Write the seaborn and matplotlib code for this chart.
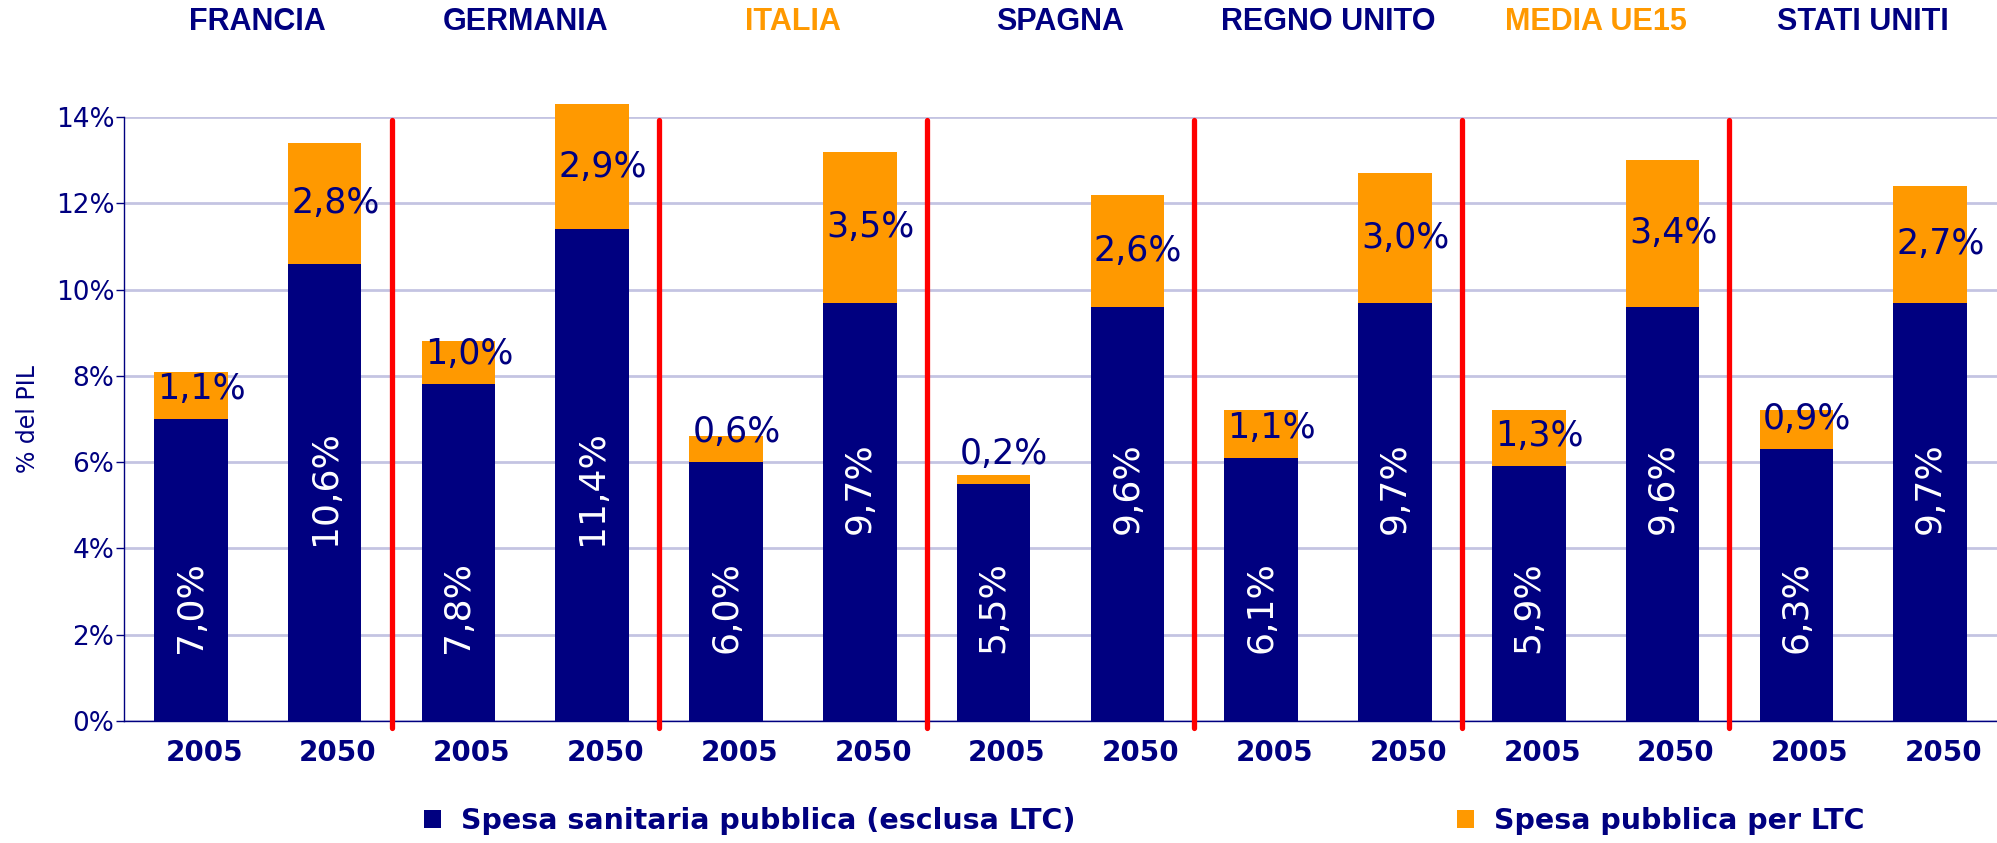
import numpy as np
import pandas as pd
import matplotlib
matplotlib.use("Agg")
import matplotlib.pyplot as plt
from matplotlib.patches import Patch
import seaborn as sns

# data (% of GDP)
countries = ["FRANCIA", "GERMANIA", "ITALIA", "SPAGNA", "REGNO UNITO", "MEDIA UE15", "STATI UNITI"]
years = ["2005", "2050"]
spesa_sanitaria = [7.0, 10.6, 7.8, 11.4, 6.0, 9.7, 5.5, 9.6, 6.1, 9.7, 5.9, 9.6, 6.3, 9.7]
spesa_ltc = [1.1, 2.8, 1.0, 2.9, 0.6, 3.5, 0.2, 2.6, 1.1, 3.0, 1.3, 3.4, 0.9, 2.7]
y_ticks = [0, 2, 4, 6, 8, 10, 12, 14]
legend_labels = ["Spesa sanitaria pubblica (esclusa LTC)", "Spesa pubblica per LTC"]
highlighted = ["ITALIA", "MEDIA UE15"]

NAVY = "#000080"
ORANGE = "#FF9900"
GRID = "#C4C4E2"

rows = []
for i, c in enumerate(countries):
    for j, y in enumerate(years):
        k = 2 * i + j
        rows.append({"slot": f"{c} {y}", "country": c, "year": y,
                     "sanitaria": spesa_sanitaria[k], "ltc": spesa_ltc[k]})
df = pd.DataFrame(rows)
df["totale"] = df["sanitaria"] + df["ltc"]
order = list(df["slot"])

sns.set_theme(style="white")
plt.rcParams["font.family"] = ["DejaVu Sans"]

fig = plt.figure(figsize=(19.97, 8.43), dpi=100)
ax = fig.add_axes([124 / 1997, 1 - 721 / 843, 1 - 124 / 1997, (721 - 117) / 843])

# stacked bars: total in orange, public health spending in navy on top of it
sns.barplot(data=df, x="slot", y="totale", order=order, color=ORANGE, saturation=1,
            width=0.55, errorbar=None, ax=ax, zorder=3)
sns.barplot(data=df, x="slot", y="sanitaria", order=order, color=NAVY, saturation=1,
            width=0.55, errorbar=None, ax=ax, zorder=3)
for p in ax.patches:
    p.set_clip_on(False)
    p.set_linewidth(0)

ax.set_xlim(-0.5, len(order) - 0.5)
ax.set_ylim(0, 14)
ax.set_yticks(y_ticks)
ax.set_yticklabels([f"{t}%" for t in y_ticks], fontsize=19, color=NAVY)
ax.yaxis.grid(True, color=GRID, linewidth=2, zorder=0)
ax.set_axisbelow(True)

# year labels sit a little right of the bar centres in the original; small ticks at boundaries
ax.set_xticks(np.arange(len(order)) + 0.1)
ax.set_xticklabels(df["year"], fontsize=20, fontweight="bold", color=NAVY)
ax.set_xticks(np.arange(-0.5, len(order), 1), minor=True)
ax.tick_params(axis="x", which="major", length=0, pad=13)
ax.tick_params(axis="x", which="minor", length=6, width=1, color=NAVY, direction="out")
ax.tick_params(axis="y", length=6, width=1, color=NAVY, direction="out", pad=1, left=True)
ax.set_xlabel("")
ax.set_ylabel("% del PIL", fontsize=17, color=NAVY)
ax.yaxis.set_label_coords(-0.045, 0.5)

for s in ["top", "right"]:
    ax.spines[s].set_visible(False)
for s in ["left", "bottom"]:
    ax.spines[s].set_color(NAVY)
    ax.spines[s].set_linewidth(1)

# red separators between countries
for b in np.arange(1.5, len(order) - 1, 2):
    ax.axvline(b, ymin=-0.012, ymax=0.995, color="#FF0000", linewidth=3.8, clip_on=False, zorder=4)

# value labels
label_y = {"2005": 2.65, "2050": 5.4}
for i, r in df.iterrows():
    ax.text(i, label_y[r["year"]], f"{r['sanitaria']:.1f}%".replace(".", ","),
            rotation=90, ha="center", va="center", color="white", fontsize=26, zorder=5)
    ypos = r["sanitaria"] + max(r["ltc"] / 2, 0.7)
    ax.text(i + 0.08, ypos, f"{r['ltc']:.1f}%".replace(".", ","),
            ha="center", va="center", color=NAVY, fontsize=25, zorder=5)

# country headers
for i, c in enumerate(countries):
    x_fig = (124 + (2 * i + 1) * (1997 - 124) / 14) / 1997
    fig.text(x_fig, 1 - 22 / 843, c, ha="center", va="center", fontsize=22, fontweight="bold",
             color=ORANGE if c in highlighted else NAVY,
             family=["Liberation Sans Narrow", "Liberation Sans", "DejaVu Sans"])

handles = [Patch(facecolor=NAVY, edgecolor="none"), Patch(facecolor=ORANGE, edgecolor="none")]
leg = fig.legend(handles, legend_labels, loc="center left", bbox_to_anchor=(424 / 1997, 1 - 821 / 843),
                 ncol=2, frameon=False, fontsize=20.5, handlelength=0.6, handleheight=0.6,
                 handletextpad=0.7, columnspacing=13.4, borderpad=0, borderaxespad=0)
for t in leg.get_texts():
    t.set_color(NAVY)
    t.set_fontweight("bold")

fig.savefig("out.png", dpi=100)
plt.close(fig)
